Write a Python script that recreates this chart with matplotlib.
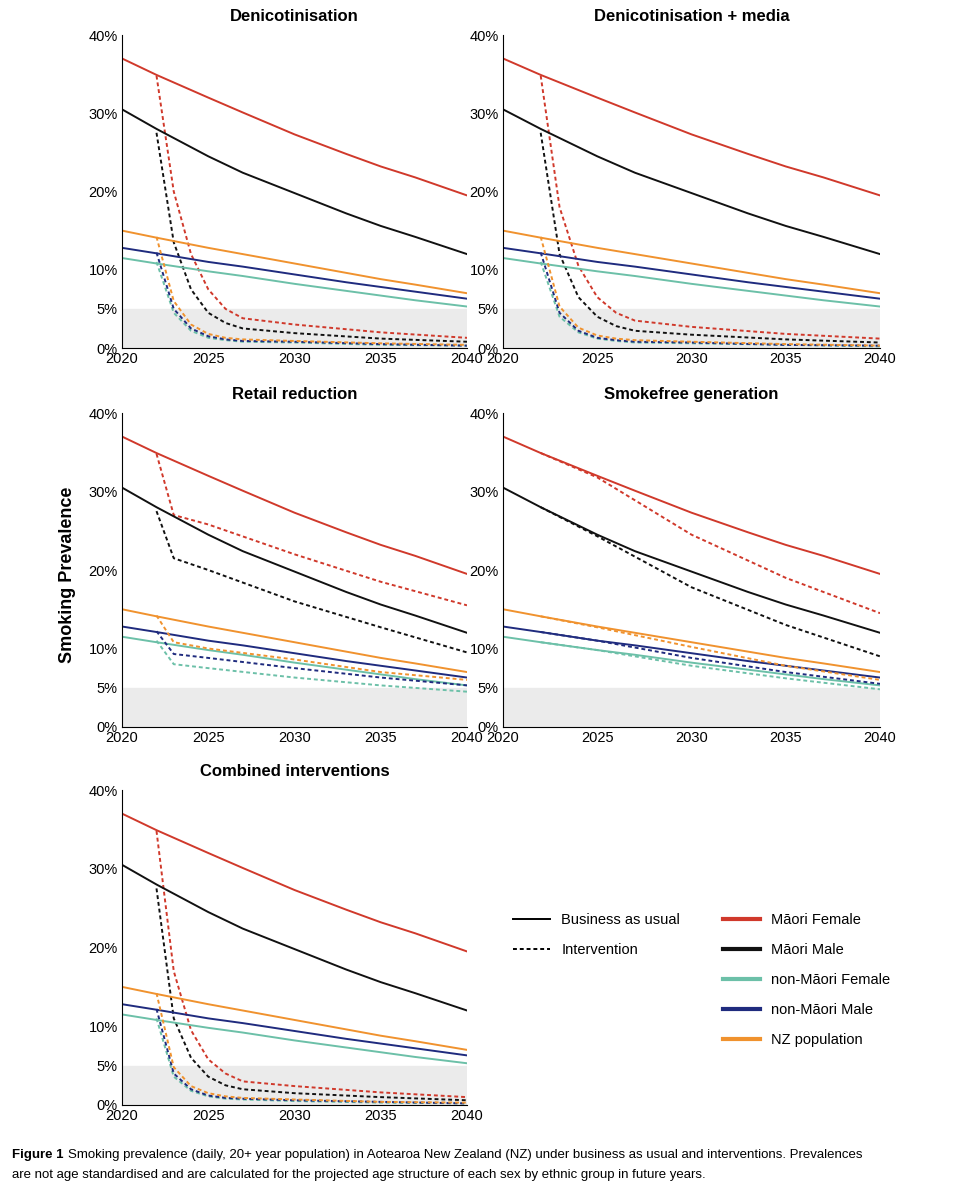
import matplotlib.pyplot as plt
from matplotlib.lines import Line2D
from matplotlib.legend import Legend

plt.rcParams['font.family'] = ['Liberation Sans', 'DejaVu Sans']

groups = ['Māori Female', 'Māori Male', 'non-Māori Female', 'non-Māori Male', 'NZ population']
colors = ['#d0392b', '#111111', '#6cc0a8', '#1f2b7e', '#f0922e']

# business as usual
bau_years = [2020, 2022, 2025, 2027, 2030, 2033, 2035, 2037, 2040]
bau = [
    [37.0, 34.9, 32.0, 30.1, 27.3, 24.8, 23.2, 21.8, 19.5],
    [30.5, 28.0, 24.5, 22.4, 19.8, 17.2, 15.6, 14.2, 12.0],
    [11.5, 10.8, 9.8, 9.2, 8.2, 7.3, 6.7, 6.1, 5.3],
    [12.8, 12.1, 11.0, 10.4, 9.4, 8.4, 7.8, 7.2, 6.3],
    [15.0, 14.1, 12.8, 12.0, 10.8, 9.6, 8.8, 8.1, 7.0],
]

# denicotinisation-type interventions
den_years = [2022, 2023, 2024, 2025, 2026, 2027, 2030, 2035, 2040]
denic = [
    [34.8, 20.0, 12.0, 7.5, 5.0, 3.8, 3.0, 2.0, 1.3],
    [27.5, 13.5, 7.5, 4.5, 3.2, 2.5, 1.9, 1.2, 0.8],
    [11.0, 4.5, 2.2, 1.3, 1.0, 0.8, 0.7, 0.4, 0.3],
    [12.2, 5.0, 2.5, 1.5, 1.1, 0.9, 0.8, 0.5, 0.3],
    [14.2, 6.0, 3.0, 1.8, 1.3, 1.1, 0.9, 0.6, 0.4],
]
media = [
    [34.8, 18.0, 10.5, 6.5, 4.5, 3.5, 2.7, 1.8, 1.2],
    [27.5, 12.0, 6.5, 4.0, 2.8, 2.2, 1.7, 1.1, 0.7],
    [11.0, 4.0, 2.0, 1.2, 0.9, 0.7, 0.6, 0.4, 0.2],
    [12.2, 4.5, 2.2, 1.3, 1.0, 0.8, 0.7, 0.4, 0.3],
    [14.2, 5.3, 2.6, 1.6, 1.2, 1.0, 0.8, 0.5, 0.3],
]
combined = [
    [34.8, 17.0, 9.5, 5.8, 4.0, 3.0, 2.4, 1.6, 1.0],
    [27.5, 11.0, 6.0, 3.6, 2.5, 2.0, 1.5, 1.0, 0.6],
    [11.0, 3.6, 1.8, 1.1, 0.8, 0.7, 0.5, 0.3, 0.2],
    [12.2, 4.0, 2.0, 1.2, 0.9, 0.8, 0.6, 0.4, 0.2],
    [14.2, 4.8, 2.4, 1.5, 1.1, 0.9, 0.7, 0.4, 0.3],
]

# retail reduction
ret_years = [2022, 2023, 2025, 2030, 2035, 2040]
retail = [
    [34.8, 27.0, 25.8, 22.0, 18.5, 15.5],
    [27.5, 21.5, 20.0, 16.0, 12.7, 9.5],
    [11.0, 8.0, 7.5, 6.3, 5.3, 4.5],
    [12.2, 9.3, 8.8, 7.5, 6.3, 5.3],
    [14.2, 10.8, 10.0, 8.6, 7.0, 6.0],
]

# smokefree generation
sfg_years = [2022, 2025, 2030, 2035, 2040]
sfg = [
    [34.9, 31.8, 24.5, 19.0, 14.5],
    [28.0, 24.3, 17.8, 13.0, 9.0],
    [10.8, 9.8, 7.8, 6.2, 4.8],
    [12.1, 11.0, 8.8, 7.0, 5.5],
    [14.1, 12.7, 10.2, 7.8, 6.0],
]

panels = [
    ('Denicotinisation', den_years, denic),
    ('Denicotinisation + media', den_years, media),
    ('Retail reduction', ret_years, retail),
    ('Smokefree generation', sfg_years, sfg),
    ('Combined interventions', den_years, combined),
]

W, H = 964, 1200
fig = plt.figure(figsize=(W / 100, H / 100), dpi=100)
boxes = [(122, 35, 467, 348), (503, 35, 880, 348),
         (122, 413, 467, 727), (503, 413, 880, 727),
         (122, 790, 467, 1105)]

for (title, iy, ivals), (x0, y0, x1, y1) in zip(panels, boxes):
    ax = fig.add_axes([x0 / W, 1 - y1 / H, (x1 - x0) / W, (y1 - y0) / H])
    ax.axhspan(0, 5, color='#ebebeb', zorder=0)
    for k in range(5):
        ax.plot(bau_years, bau[k], color=colors[k], lw=1.4)
        ax.plot(iy, ivals[k], color=colors[k], lw=1.4, ls=(0, (2, 1.5)))
    ax.set_xlim(2020, 2040)
    ax.set_ylim(0, 40)
    ax.set_xticks([2020, 2025, 2030, 2035, 2040])
    ax.set_yticks([0, 5, 10, 20, 30, 40])
    ax.set_yticklabels(['0%', '5%', '10%', '20%', '30%', '40%'])
    ax.tick_params(length=0, labelsize=10.5, pad=3)
    for s in ['top', 'right']:
        ax.spines[s].set_visible(False)
    ax.set_title(title, fontsize=12, fontweight='bold', pad=10)

fig.text(68 / W, 1 - 575 / H, 'Smoking Prevalence', rotation=90, fontsize=13,
         fontweight='bold', ha='center', va='center')

# legends
lax = fig.add_axes([500 / W, 1 - 1070 / H, 420 / W, 170 / H])
lax.axis('off')
style_handles = [Line2D([], [], color='black', lw=1.4),
                 Line2D([], [], color='black', lw=1.4, ls=(0, (2, 1.5)))]
lax.legend(style_handles, ['Business as usual', 'Intervention'], loc='upper left',
           frameon=False, fontsize=10.5, handlelength=2.5, labelspacing=1.1,
           bbox_to_anchor=(0.0, 1.0))
grp_handles = [Line2D([], [], color=c, lw=3) for c in colors]
leg2 = Legend(lax, grp_handles, groups, loc='upper left', frameon=False,
              fontsize=10.5, handlelength=2.5, labelspacing=1.1,
              bbox_to_anchor=(0.5, 1.0))
lax.add_artist(leg2)

fig.text(12 / W, 1 - 1155 / H, 'Figure 1', fontsize=9.5, fontweight='bold', va='center')
fig.text(68 / W, 1 - 1155 / H,
         'Smoking prevalence (daily, 20+ year population) in Aotearoa New Zealand (NZ) under business as usual and interventions. Prevalences',
         fontsize=9.5, va='center')
fig.text(12 / W, 1 - 1175 / H,
         'are not age standardised and are calculated for the projected age structure of each sex by ethnic group in future years.',
         fontsize=9.5, va='center')

fig.savefig('out.png', dpi=100)
